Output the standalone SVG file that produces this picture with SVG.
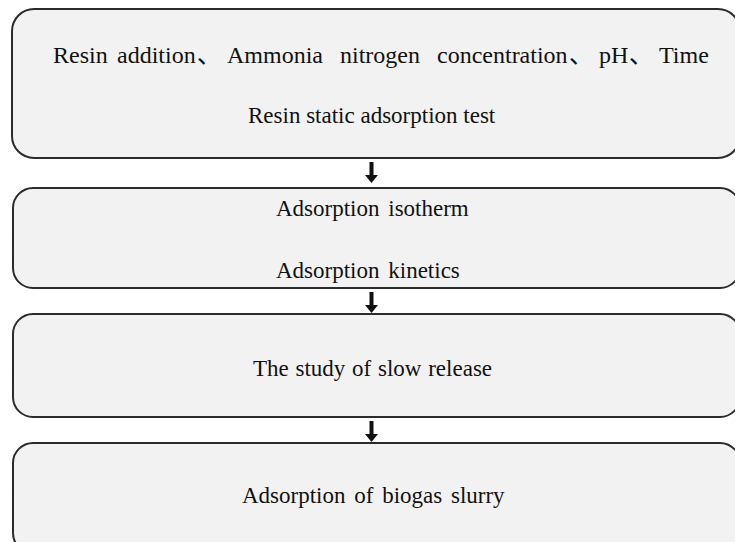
<svg xmlns="http://www.w3.org/2000/svg" width="735" height="542" viewBox="0 0 735 542">
<defs>
<style>
.box{fill:#f2f2f2;stroke:#2b2b2b;stroke-width:2}
.t{font-family:"Liberation Serif","Noto Sans CJK SC",serif;font-size:23px;fill:#111}
.l1{font-size:24px}
.arr{fill:#111}
</style>
<path id="arrow" d="M-2,0 H2 V13 H6.5 L0,21 L-6.5,13 H-2 Z"/>
</defs>
<rect width="735" height="542" fill="#fff"/>
<g id="node1">
<rect class="box" x="12" y="9" width="728" height="149" rx="22"/>
<text class="t l1" y="63"><tspan x="53">Resin</tspan><tspan x="117">addition</tspan><tspan x="197">、</tspan><tspan x="227">Ammonia</tspan><tspan x="340">nitrogen</tspan><tspan x="437">concentration</tspan><tspan x="569">、</tspan><tspan x="599">pH</tspan><tspan x="629">、</tspan><tspan x="659">Time</tspan></text>
<text class="t" x="248" y="123">Resin static adsorption test</text>
</g>
<g id="node2">
<rect class="box" x="13" y="188" width="727" height="100" rx="20"/>
<text class="t" x="276" y="216" word-spacing="3">Adsorption isotherm</text>
<text class="t" x="276" y="278" word-spacing="3">Adsorption kinetics</text>
</g>
<g id="node3">
<rect class="box" x="13" y="314" width="727" height="103" rx="20"/>
<text class="t" x="253" y="376" word-spacing="1">The study of slow release</text>
</g>
<g id="node4">
<rect class="box" x="13" y="443" width="727" height="110" rx="20"/>
<text class="t" x="242" y="503" word-spacing="3">Adsorption of biogas slurry</text>
</g>
<g id="connectors" class="arr">
<use href="#arrow" x="371.5" y="162"/>
<use href="#arrow" x="371.5" y="292"/>
<use href="#arrow" x="371.5" y="421"/>
</g>
</svg>
